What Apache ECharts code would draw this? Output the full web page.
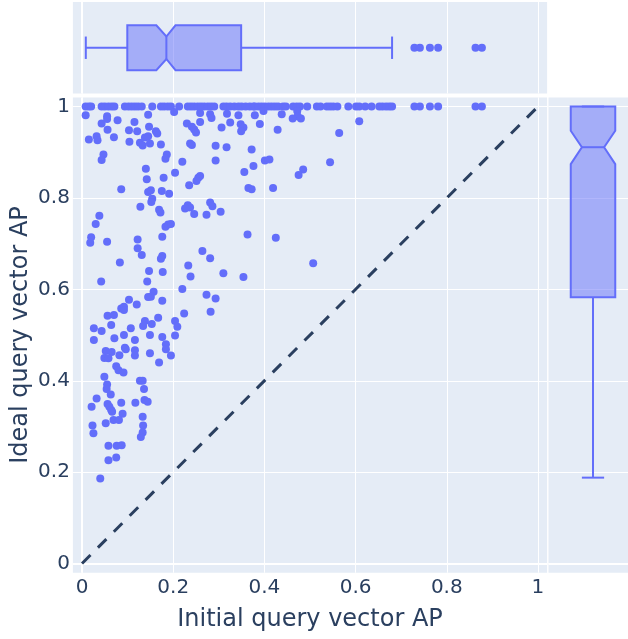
<!DOCTYPE html>
<html><head><meta charset="utf-8">
<script src="https://cdn.jsdelivr.net/npm/echarts@6/dist/echarts.min.js"></script>
<style>html,body{margin:0;padding:0;background:#fff}#c{width:628px;height:639px}</style>
</head><body><div id="c"></div>
<script>
// ---- tick values / labels ----
const tickValues = [0, 0.2, 0.4, 0.6, 0.8, 1];
const tickLabels = ['0', '0.2', '0.4', '0.6', '0.8', '1'];

// ---- scatter: points sitting at y = 1 (x values) ----
const topRowX = [0.008,0.015,0.020,0.043,0.050,0.058,0.065,0.071,0.094,0.102,0.109,0.116,0.123,0.131,0.154,0.173,0.180,0.188,0.195,0.213,0.232,0.239,0.246,0.254,0.261,0.268,0.276,0.283,0.290,0.310,0.317,0.325,0.334,0.343,0.350,0.359,0.368,0.376,0.379,0.387,0.394,0.401,0.409,0.416,0.423,0.430,0.441,0.447,0.463,0.471,0.478,0.494,0.515,0.523,0.537,0.544,0.551,0.560,0.584,0.601,0.608,0.621,0.635,0.652,0.659,0.667,0.674,0.680,0.729,0.741,0.763,0.781,0.863,0.877];

// ---- scatter: remaining points [x, y] ----
const pointsHigh = [[0.008,0.981],[0.055,0.979],[0.055,0.973],[0.043,0.963],[0.078,0.970],[0.056,0.949],[0.115,0.966],[0.145,0.982],[0.103,0.948],[0.121,0.946],[0.147,0.956],[0.162,0.946],[0.165,0.941],[0.015,0.928],[0.032,0.935],[0.034,0.926],[0.070,0.933],[0.104,0.923],[0.127,0.921],[0.133,0.915],[0.138,0.932],[0.145,0.935],[0.149,0.919],[0.173,0.917],[0.202,0.988],[0.230,0.963],[0.241,0.956],[0.246,0.950],[0.250,0.943],[0.259,0.966],[0.259,0.986],[0.237,0.919],[0.241,0.916],[0.281,0.983],[0.284,0.975],[0.306,0.954],[0.325,0.965],[0.318,0.984],[0.343,0.981],[0.348,0.961],[0.354,0.954],[0.349,0.946],[0.293,0.914],[0.317,0.911],[0.372,0.906],[0.379,0.981],[0.398,0.990],[0.390,0.962],[0.438,0.983],[0.472,0.990],[0.473,0.979],[0.462,0.974],[0.480,0.974],[0.429,0.949],[0.608,0.968],[0.564,0.942]];
const pointsUpper = [[0.047,0.895],[0.043,0.883],[0.186,0.895],[0.183,0.886],[0.220,0.879],[0.293,0.882],[0.376,0.870],[0.401,0.882],[0.411,0.884],[0.544,0.878],[0.485,0.862],[0.475,0.850],[0.140,0.864],[0.142,0.841],[0.179,0.844],[0.204,0.855],[0.255,0.844],[0.259,0.848],[0.251,0.837],[0.235,0.828],[0.356,0.857],[0.365,0.822],[0.372,0.819],[0.419,0.822],[0.086,0.819],[0.145,0.813],[0.151,0.817],[0.175,0.815],[0.191,0.809],[0.154,0.798],[0.152,0.791]];
const pointsMid = [[0.128,0.781],[0.169,0.774],[0.172,0.768],[0.232,0.784],[0.237,0.779],[0.226,0.777],[0.246,0.765],[0.273,0.763],[0.281,0.790],[0.286,0.782],[0.304,0.770],[0.038,0.761],[0.030,0.743],[0.183,0.737],[0.189,0.742],[0.195,0.743],[0.363,0.720],[0.425,0.713],[0.020,0.714],[0.018,0.702],[0.055,0.704],[0.122,0.709],[0.176,0.715],[0.122,0.690],[0.131,0.675],[0.264,0.684],[0.176,0.673],[0.173,0.667],[0.281,0.668],[0.083,0.659],[0.233,0.652],[0.507,0.657],[0.147,0.640],[0.177,0.638],[0.238,0.628],[0.310,0.635],[0.354,0.627],[0.042,0.617],[0.143,0.617],[0.220,0.601]];
const pointsLower = [[0.157,0.595],[0.151,0.584],[0.145,0.583],[0.273,0.588],[0.293,0.580],[0.176,0.575],[0.103,0.577],[0.120,0.567],[0.086,0.558],[0.092,0.562],[0.092,0.555],[0.282,0.551],[0.056,0.542],[0.070,0.544],[0.224,0.547],[0.167,0.538],[0.204,0.531],[0.209,0.518],[0.138,0.531],[0.134,0.520],[0.153,0.524],[0.064,0.522],[0.026,0.515],[0.043,0.509],[0.107,0.515],[0.092,0.500],[0.149,0.500],[0.176,0.496],[0.204,0.499],[0.071,0.493],[0.026,0.489],[0.116,0.489],[0.052,0.465],[0.065,0.463],[0.049,0.450],[0.058,0.449],[0.082,0.456],[0.094,0.472],[0.096,0.469],[0.116,0.467],[0.116,0.455],[0.149,0.460],[0.184,0.480],[0.184,0.469],[0.195,0.455],[0.169,0.440],[0.075,0.432],[0.080,0.423],[0.091,0.418],[0.049,0.409]];
const pointsLow = [[0.127,0.400],[0.133,0.400],[0.055,0.392],[0.054,0.382],[0.063,0.370],[0.136,0.382],[0.032,0.361],[0.021,0.343],[0.056,0.349],[0.060,0.343],[0.064,0.336],[0.066,0.332],[0.086,0.352],[0.117,0.352],[0.137,0.358],[0.144,0.354],[0.089,0.328],[0.069,0.314],[0.081,0.314],[0.052,0.307],[0.133,0.321],[0.023,0.302],[0.025,0.285],[0.134,0.302],[0.133,0.287],[0.129,0.277],[0.058,0.258],[0.076,0.258],[0.087,0.259],[0.058,0.226],[0.075,0.232],[0.040,0.186]];

// ---- marginal box statistics: [lower whisker, q1, median, q3, upper whisker] + notch ----
const xBoxStats = [0.0083, 0.0993, 0.185, 0.349, 0.680];
const xBoxNotch = [0.163, 0.205];
const xBoxOutliers = [0.729, 0.741, 0.763, 0.781, 0.863, 0.877];
const yBoxStats = [0.188, 0.5825, 0.911, 1.0, 1.0];
const yBoxNotch = [0.874, 0.947];

// ---- reference diagonal y = x ----
const diagonal = [[0, 0], [1, 1]];

// ---------------------------------------------------------------
const FONT = 'DejaVu Sans';
const TEXT = '#2a3f5f';
const BLUE = '#636efa';
const fmt = v => { let best = 0; tickValues.forEach((t, i) => { if (Math.abs(t - v) < Math.abs(tickValues[best] - v)) best = i; }); return tickLabels[best]; };

const scatterData = topRowX.map(x => [x, 1]).concat(pointsHigh, pointsUpper, pointsMid, pointsLower, pointsLow);

function valueAxis(gridIndex, showLabels, extra) {
  return Object.assign({
    type: 'value', gridIndex, min: -0.02, max: 1.02,
    axisLine: { show: false },
    axisTick: { show: false, customValues: tickValues },
    axisLabel: { show: showLabels, customValues: tickValues, formatter: fmt, color: TEXT, fontSize: 20, fontFamily: FONT },
    splitLine: { show: true, lineStyle: { color: '#ffffff', width: 1 } }
  }, extra || {});
}
function hiddenAxis(gridIndex) {
  return { type: 'value', gridIndex, min: -1, max: 1, show: false, splitLine: { show: false } };
}

function boxRenderer(horizontal, half) {
  return function (params, api) {
    const lo = api.value(0), q1 = api.value(1), med = api.value(2), q3 = api.value(3), hi = api.value(4), nLo = api.value(5), nHi = api.value(6);
    const pt = (val, off) => horizontal ? api.coord([val, off]) : api.coord([off, val]);
    const h = half, hn = half / 2;
    const poly = [pt(q1, -h), pt(nLo, -h), pt(med, -hn), pt(nHi, -h), pt(q3, -h), pt(q3, h), pt(nHi, h), pt(med, hn), pt(nLo, h), pt(q1, h)];
    const ls = { stroke: BLUE, lineWidth: 2, fill: null };
    const seg = (a, b) => ({ type: 'line', shape: { x1: a[0], y1: a[1], x2: b[0], y2: b[1] }, style: ls });
    return {
      type: 'group',
      children: [
        { type: 'polygon', shape: { points: poly }, style: { fill: 'rgba(99,110,250,0.5)', stroke: BLUE, lineWidth: 2, lineJoin: 'miter' } },
        seg(pt(med, -hn), pt(med, hn)),
        seg(pt(lo, 0), pt(q1, 0)),
        seg(pt(q3, 0), pt(hi, 0)),
        seg(pt(lo, -hn), pt(lo, hn)),
        seg(pt(hi, -hn), pt(hi, hn))
      ]
    };
  };
}

const zeroLine = (xi, yi, lines) => ({
  type: 'line', xAxisIndex: xi, yAxisIndex: yi, data: [], silent: true,
  markLine: { silent: true, symbol: 'none', z: 1, label: { show: false }, lineStyle: { color: '#ffffff', width: 2, type: 'solid' }, data: lines }
});

const gridBase = { show: true, backgroundColor: '#E5ECF6', borderWidth: 0, containLabel: false, outerBoundsMode: 'none' };

const option = {
  animation: false,
  backgroundColor: '#ffffff',
  grid: [
    Object.assign({ left: 72.9, top: 97.4, width: 474.2, height: 475.3 }, gridBase),
    Object.assign({ left: 72.9, top: 2, width: 474.2, height: 91.5 }, gridBase),
    Object.assign({ left: 548.5, top: 97.4, width: 89, height: 475.3 }, gridBase)
  ],
  xAxis: [
    valueAxis(0, true, { name: 'Initial query vector AP', nameLocation: 'middle', nameGap: 35, nameMoveOverlap: false, nameTextStyle: { color: TEXT, fontSize: 24, fontFamily: FONT }, axisLabel: { show: true, customValues: tickValues, formatter: fmt, color: TEXT, fontSize: 20, fontFamily: FONT, margin: 5 } }),
    valueAxis(1, false),
    hiddenAxis(2)
  ],
  yAxis: [
    valueAxis(0, true, { name: 'Ideal query vector AP', nameLocation: 'middle', nameGap: 40, nameMoveOverlap: false, nameRotate: 90, nameTextStyle: { color: TEXT, fontSize: 24, fontFamily: FONT }, axisLabel: { show: true, customValues: tickValues, formatter: fmt, color: TEXT, fontSize: 20, fontFamily: FONT, margin: 3 } }),
    hiddenAxis(1),
    valueAxis(2, false)
  ],
  series: [
    zeroLine(0, 0, [{ xAxis: 0 }, { yAxis: 0 }]),
    zeroLine(1, 1, [{ xAxis: 0 }]),
    zeroLine(2, 2, [{ yAxis: 0 }]),
    {
      type: 'scatter', xAxisIndex: 0, yAxisIndex: 0, data: scatterData, symbolSize: 8, z: 2,
      itemStyle: { color: BLUE, opacity: 1 }, silent: true
    },
    {
      type: 'line', xAxisIndex: 0, yAxisIndex: 0, data: diagonal, symbol: 'none', z: 3, silent: true,
      lineStyle: { color: TEXT, width: 3, type: [12, 10.5] }
    },
    {
      type: 'custom', xAxisIndex: 1, yAxisIndex: 1, z: 2, silent: true,
      renderItem: boxRenderer(true, 0.49),
      data: [xBoxStats.concat(xBoxNotch)]
    },
    {
      type: 'scatter', xAxisIndex: 1, yAxisIndex: 1, z: 3, silent: true, symbolSize: 8,
      itemStyle: { color: BLUE, opacity: 1 },
      data: xBoxOutliers.map(x => [x, 0])
    },
    {
      type: 'custom', xAxisIndex: 2, yAxisIndex: 2, z: 2, silent: true,
      renderItem: boxRenderer(false, 0.5),
      data: [yBoxStats.concat(yBoxNotch)]
    }
  ]
};

const chart = echarts.init(document.getElementById('c'), null, { renderer: 'canvas' });
chart.setOption(option);
</script>
</body></html>
